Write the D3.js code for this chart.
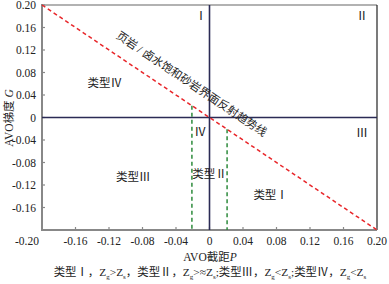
<!DOCTYPE html>
<html>
<head>
    <meta charset="utf-8">
    <script src="https://d3js.org/d3.v7.min.js"></script>
    <style>
        body { margin: 0; background: #fff; }
        text { font-family: "Liberation Serif", "Noto Sans CJK SC", serif; fill: #222; }
    </style>
</head>
<body>
    <svg id="chart" width="389" height="284"></svg>
    <script>
        // axis ticks
        const xTicks = [-0.16, -0.12, -0.08, -0.04, 0, 0.04, 0.08, 0.12, 0.16, 0.20];
        const yTicks = [0.20, 0.16, 0.12, 0.08, 0.04, 0, -0.04, -0.08, -0.12, -0.16];
        // shale / brine sand trend line (P, G)
        const trendP = [-0.20, 0.20];
        const trendG = [0.20, -0.20];
        // type II band boundaries (P)
        const bandP = [-0.021, 0.021];
        // quadrant and class labels
        const quadNames = ["Ⅰ", "Ⅱ", "Ⅲ", "Ⅳ"];
        const quadP = [-0.010, 0.182, 0.182, -0.011];
        const quadG = [0.182, 0.182, -0.026, -0.024];
        const typeNames = ["类型Ⅳ", "类型Ⅲ", "类型Ⅱ", "类型Ⅰ"];
        const typeP = [-0.125, -0.091, 0.0, 0.073];
        const typeG = [0.061, -0.106, -0.100, -0.138];

        const svg = d3.select("#chart");
        const x = d3.scaleLinear().domain([-0.2, 0.2]).range([42, 377]);
        const y = d3.scaleLinear().domain([-0.2, 0.2]).range([230, 5]);
        const fmt = d => d === 0 ? "0" : d3.format(".2f")(d).replace("−", "-");

        // frame
        svg.append("line").attr("x1", x(-0.2)).attr("x2", x(0.2)).attr("y1", y(0.2)).attr("y2", y(0.2))
            .attr("stroke", "#999").attr("stroke-width", 1.5);
        svg.append("line").attr("x1", x(0.2)).attr("x2", x(0.2)).attr("y1", y(0.2)).attr("y2", y(-0.2))
            .attr("stroke", "#222").attr("stroke-width", 1.2);
        svg.append("line").attr("x1", x(-0.2)).attr("x2", x(-0.2)).attr("y1", y(0.2) - 1).attr("y2", y(-0.2) + 1)
            .attr("stroke", "#888").attr("stroke-width", 2);
        svg.append("line").attr("x1", x(-0.2) - 1).attr("x2", x(0.2)).attr("y1", y(-0.2)).attr("y2", y(-0.2))
            .attr("stroke", "#888").attr("stroke-width", 2);

        // ticks (inward)
        svg.selectAll(".yt").data(yTicks).join("line")
            .attr("x1", x(-0.2)).attr("x2", x(-0.2) + 3)
            .attr("y1", d => y(d)).attr("y2", d => y(d))
            .attr("stroke", "#888").attr("stroke-width", 1.2);
        svg.selectAll(".ytl").data(yTicks).join("text")
            .attr("x", 36).attr("y", d => y(d) + 4)
            .attr("text-anchor", "end").attr("font-size", 11.5)
            .text(fmt);
        svg.selectAll(".xt").data(xTicks).join("line")
            .attr("x1", d => x(d)).attr("x2", d => x(d))
            .attr("y1", y(-0.2)).attr("y2", y(-0.2) - 3)
            .attr("stroke", "#888").attr("stroke-width", 1.2);
        svg.selectAll(".xtl").data(xTicks).join("text")
            .attr("x", d => x(d)).attr("y", 245)
            .attr("text-anchor", "middle").attr("font-size", 11.5)
            .text(fmt);
        svg.append("text").attr("x", 27).attr("y", 245)
            .attr("text-anchor", "middle").attr("font-size", 11.5)
            .text(fmt(-0.2));

        // zero lines
        svg.append("line").attr("x1", x(-0.2)).attr("x2", x(0.2)).attr("y1", y(0)).attr("y2", y(0))
            .attr("stroke", "#2b2b55").attr("stroke-width", 1.6);
        svg.append("line").attr("x1", x(0)).attr("x2", x(0)).attr("y1", y(0.2)).attr("y2", y(-0.2))
            .attr("stroke", "#2b2b55").attr("stroke-width", 1.6);

        // green band lines, starting at the trend line
        svg.selectAll(".band").data(bandP).join("line")
            .attr("x1", d => x(d)).attr("x2", d => x(d))
            .attr("y1", d => y(-d)).attr("y2", y(-0.2))
            .attr("stroke", "#2e8b3c").attr("stroke-width", 1.5)
            .attr("stroke-dasharray", "4,3");

        // red trend line
        svg.append("path")
            .datum(d3.zip(trendP, trendG))
            .attr("d", d3.line().x(d => x(d[0])).y(d => y(d[1])))
            .attr("fill", "none").attr("stroke", "#e8262a")
            .attr("stroke-width", 1.5).attr("stroke-dasharray", "4,3");

        // trend label along line
        const ang = Math.atan2(y(trendG[1]) - y(trendG[0]), x(trendP[1]) - x(trendP[0])) * 180 / Math.PI;
        svg.append("text")
            .attr("transform", `translate(${x(-0.024)},${y(0.054)}) rotate(${ang})`)
            .attr("text-anchor", "middle").attr("font-size", 11.3)
            .attr("font-family", "Noto Sans CJK SC")
            .text("页岩 / 卤水饱和砂岩界面反射趋势线");

        // quadrant labels
        svg.selectAll(".quad").data(quadNames).join("text")
            .attr("x", (d, i) => x(quadP[i])).attr("y", (d, i) => y(quadG[i]) + 5)
            .attr("text-anchor", "middle").attr("font-size", 12).attr("fill", "#333")
            .text(d => d);
        svg.selectAll(".type").data(typeNames).join("text")
            .attr("x", (d, i) => x(typeP[i])).attr("y", (d, i) => y(typeG[i]) + 4)
            .attr("text-anchor", "middle").attr("font-size", 11.5)
            .attr("font-family", "Noto Sans CJK SC")
            .text(d => d);

        // axis titles
        const yl = svg.append("text").attr("transform", "translate(13,118) rotate(-90)")
            .attr("text-anchor", "middle").attr("font-size", 11.5);
        yl.append("tspan").text("AVO梯度 ");
        yl.append("tspan").attr("font-style", "italic").text("G");
        const xl = svg.append("text").attr("x", 210).attr("y", 261)
            .attr("text-anchor", "middle").attr("font-size", 11.5);
        xl.append("tspan").text("AVO截距");
        xl.append("tspan").attr("font-style", "italic").text("P");

        // caption
        const parts = [
            ["类型Ⅰ，Z", "g", "&gt;Z", "s", "，"],
            ["类型Ⅱ，Z", "g", "&gt;≈Z", "s", ";"],
            ["类型Ⅲ，Z", "g", "&lt;Z", "s", ";"],
            ["类型Ⅳ，Z", "g", "&lt;Z", "s", ""]
        ];
        const cap = svg.append("text").attr("x", 210).attr("y", 276)
            .attr("text-anchor", "middle").attr("font-size", 11.4);
        parts.forEach(p => {
            cap.append("tspan").text(p[0]);
            cap.append("tspan").attr("font-size", 7).attr("dy", 3).text(p[1]);
            cap.append("tspan").attr("dy", -3).html(p[2]);
            cap.append("tspan").attr("font-size", 7).attr("dy", 3).text(p[3]);
            cap.append("tspan").attr("dy", -3).text(p[4]);
        });
    </script>
</body>
</html>
